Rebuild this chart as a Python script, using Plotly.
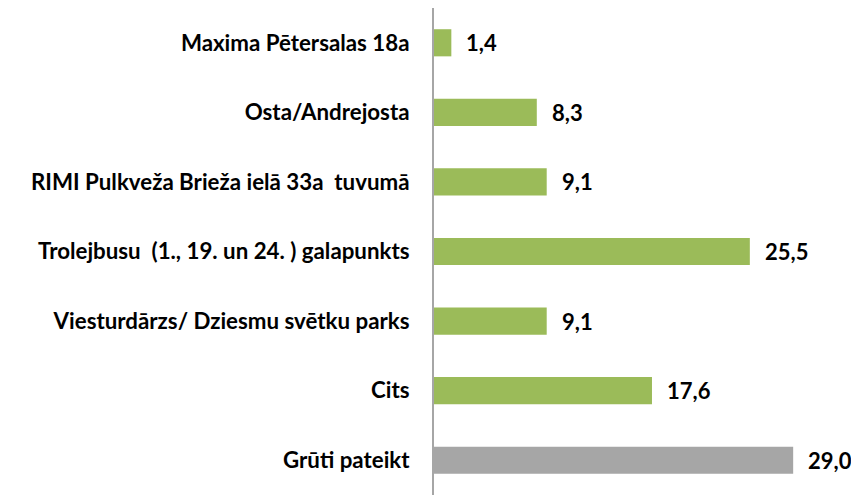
import plotly.graph_objects as go

categories = [
    "Maxima Pētersalas 18a",
    "Osta/Andrejosta",
    "RIMI Pulkveža Brieža ielā 33a  tuvumā",
    "Trolejbusu  (1., 19. un 24. ) galapunkts",
    "Viesturdārzs/ Dziesmu svētku parks",
    "Cits",
    "Grūti pateikt",
]
values = [1.4, 8.3, 9.1, 25.5, 9.1, 17.6, 29.0]
labels = ["1,4", "8,3", "9,1", "25,5", "9,1", "17,6", "29,0"]
colors = ["#9BBB59"] * 6 + ["#A6A6A6"]

FONT = "Lato"

fig = go.Figure(go.Bar(
    x=values, y=categories, orientation="h",
    marker=dict(color=colors, line=dict(width=0)),
    width=0.39,
))

for c, v, t in zip(categories, values, labels):
    fig.add_annotation(x=v, y=c, text=f"<b>{t}</b>", showarrow=False,
                       xanchor="left", xshift=13,
                       font=dict(family=FONT, size=22, color="#000000"))

fig.update_layout(
    width=851, height=487,
    margin=dict(l=426, r=20, t=0, b=0),
    plot_bgcolor="white", paper_bgcolor="white",
    showlegend=False,
    xaxis=dict(range=[0, 32.7], showticklabels=False, showgrid=False,
               zeroline=False, showline=False),
    yaxis=dict(autorange="reversed", showline=True, linecolor="#A6A6A6",
               linewidth=2, ticks="", ticklabelstandoff=18, automargin=False,
               tickfont=dict(family=FONT, size=22.3, color="#000000", weight="bold")),
)

fig.write_html("out.html")
